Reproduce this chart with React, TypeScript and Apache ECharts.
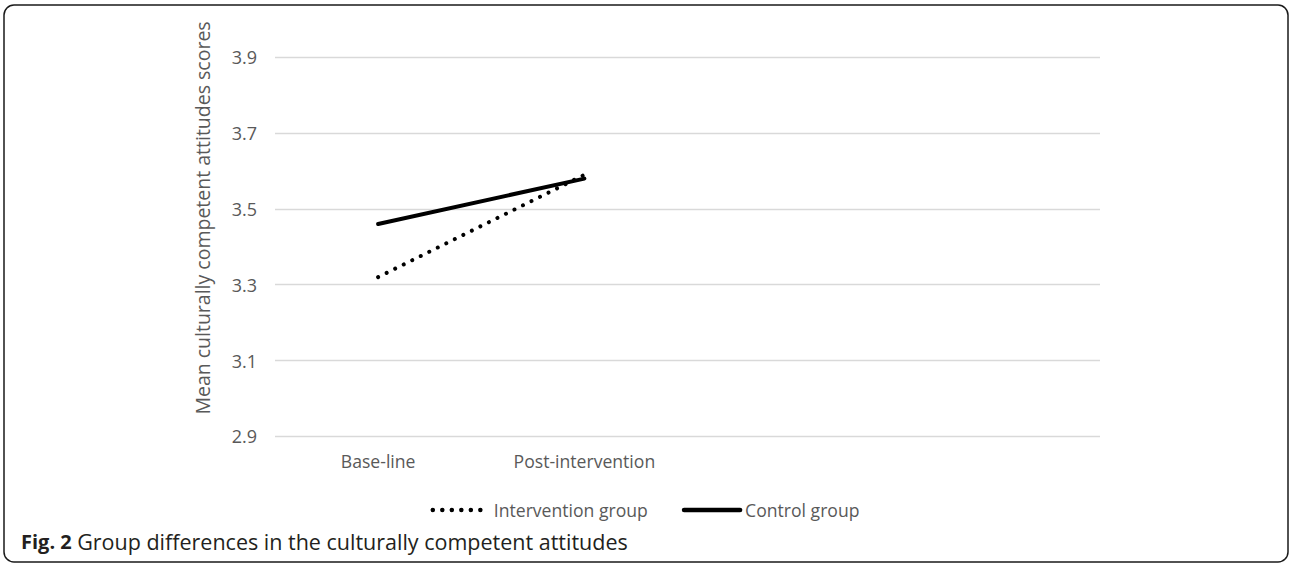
import React, { useEffect, useRef } from "react";
import * as echarts from "echarts";

const categories = ["Base-line", "Post-intervention", "", ""];
const interventionValues = [3.32, 3.59];
const controlValues = [3.46, 3.58];
const yMin = 2.9;
const yMax = 3.9;
const yStep = 0.2;
const yAxisTitle = "Mean culturally competent attitudes scores";
const seriesNames = ["Intervention group", "Control group"];
const captionBold = "Fig. 2";
const captionText = "Group differences in the culturally competent attitudes";

const FONT = "'Open Sans', 'Noto Sans', sans-serif";
const GREY = "#595959";

export default function App() {
  const ref = useRef<HTMLDivElement>(null);
  useEffect(() => {
    document.body.style.margin = "0";
    if (!ref.current) return;
    const chart = echarts.init(ref.current, undefined, { renderer: "svg" });
    const shift = (v: number) => +(v - yMin).toFixed(4);
    chart.setOption({
      animation: false,
      backgroundColor: "#ffffff",
      textStyle: { fontFamily: FONT },
      grid: { left: 275, right: 190, top: 57.3, bottom: 127.7, containLabel: false },
      xAxis: {
        type: "category",
        data: categories,
        boundaryGap: true,
        axisLine: { show: false },
        axisTick: { show: false },
        axisLabel: { color: GREY, fontSize: 17.6, fontFamily: FONT, margin: 16 },
        splitLine: { show: false },
      },
      yAxis: {
        type: "value",
        min: 0,
        max: +(yMax - yMin).toFixed(4),
        interval: yStep,
        axisLine: { show: false },
        axisTick: { show: false },
        axisLabel: {
          color: GREY,
          fontSize: 18,
          fontFamily: FONT,
          margin: 18,
          formatter: (v: number) => (v + yMin).toFixed(1),
        },
        splitLine: { lineStyle: { color: "#d9d9d9", width: 1.3 } },
      },
      legend: {
        left: "center",
        top: 496,
        itemWidth: 56,
        itemHeight: 20,
        itemGap: 34,
        itemStyle: { color: "rgba(0,0,0,0)", borderColor: "rgba(0,0,0,0)", borderWidth: 0 },
        lineStyle: { width: 4.5 },
        textStyle: { color: GREY, fontSize: 17.6, fontFamily: FONT },
        data: seriesNames,
      },
      series: [
        {
          name: seriesNames[0],
          type: "line",
          data: interventionValues.map(shift),
          symbol: "none",
          lineStyle: { color: "#000000", width: 4, type: [0.01, 9.5], cap: "round" },
          itemStyle: { color: "#000000" },
        },
        {
          name: seriesNames[1],
          type: "line",
          data: controlValues.map(shift),
          symbol: "none",
          lineStyle: { color: "#000000", width: 4, cap: "round" },
          itemStyle: { color: "#000000" },
        },
      ],
      graphic: [
        {
          type: "rect",
          shape: { x: 4, y: 5, width: 1284, height: 557, r: 10 },
          style: { fill: "none", stroke: "#1a1a1a", lineWidth: 1.5 },
          silent: true,
        },
        {
          type: "text",
          x: 202,
          y: 218,
          rotation: Math.PI / 2,
          style: {
            text: yAxisTitle,
            fill: GREY,
            font: `19.5px ${FONT}`,
            align: "center",
            verticalAlign: "middle",
          },
        },
        {
          type: "text",
          x: 21,
          y: 541,
          style: {
            text: `{b|${captionBold}} {n|${captionText}}`,
            fill: "#231f20",
            font: `21px ${FONT}`,
            verticalAlign: "middle",
            rich: {
              b: { fontWeight: "bold", fontSize: 20, fontFamily: FONT, fill: "#231f20" },
              n: { fontSize: 21.5, fontFamily: FONT, fill: "#231f20" },
            },
          },
        },
      ],
    });
    return () => chart.dispose();
  }, []);
  return <div ref={ref} style={{ width: 1290, height: 564 }} />;
}
